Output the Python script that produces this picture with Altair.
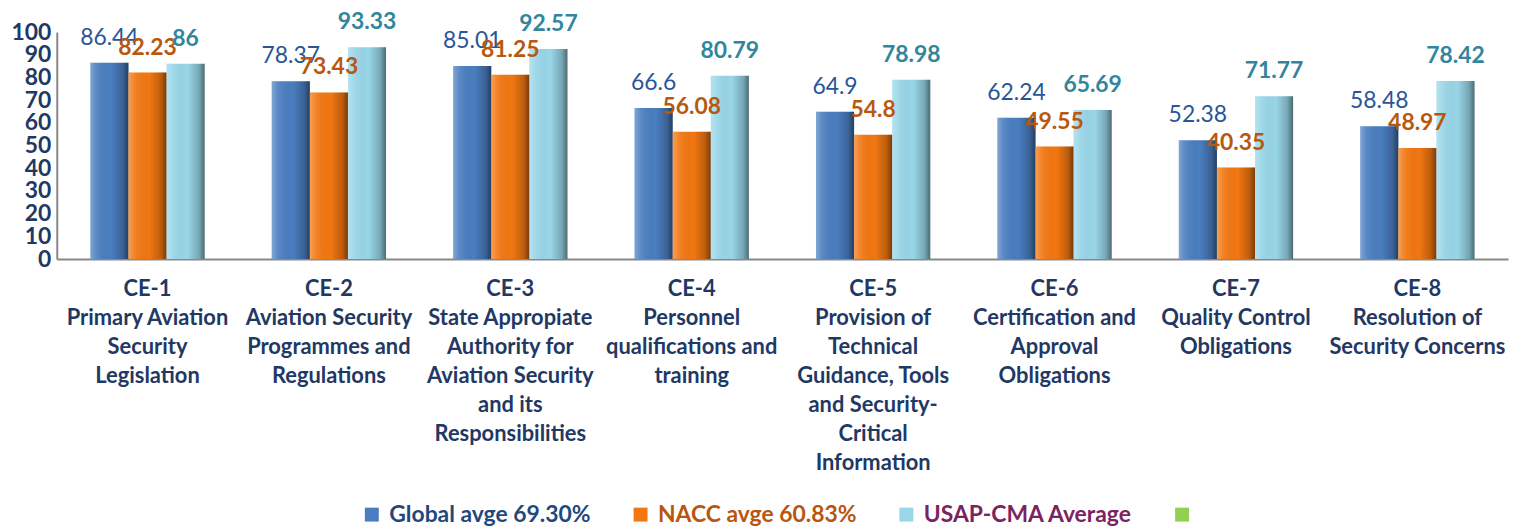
import altair as alt
import pandas as pd

categories = [
    "CE-1|Primary Aviation|Security|Legislation",
    "CE-2|Aviation Security|Programmes and|Regulations",
    "CE-3|State Appropiate|Authority for|Aviation Security|and its|Responsibilities",
    "CE-4|Personnel|qualifications and|training",
    "CE-5|Provision of|Technical|Guidance, Tools|and Security-|Critical|Information",
    "CE-6|Certification and|Approval|Obligations",
    "CE-7|Quality Control|Obligations",
    "CE-8|Resolution of|Security Concerns",
]
series = ["Global avge 69.30%", "NACC avge 60.83%", "USAP-CMA Average"]
legend_extra = " "
global_vals = [86.44, 78.37, 85.01, 66.6, 64.9, 62.24, 52.38, 58.48]
nacc_vals = [82.23, 73.43, 81.25, 56.08, 54.8, 49.55, 40.35, 48.97]
usap_vals = [86, 93.33, 92.57, 80.79, 78.98, 65.69, 71.77, 78.42]
y_ticks = [0, 10, 20, 30, 40, 50, 60, 70, 80, 90, 100]

bar_colors = ["#4A7EC0", "#F27711", "#98D6E8", "#92D050"]
label_colors = ["#2A5597", "#B8580F", "#31859C"]
label_weights = ["normal", "bold", "bold"]
legend_text_colors = ["#1F497D", "#B8560F", "#7B2361"]

rows = []
for s, vals in zip(series, [global_vals, nacc_vals, usap_vals]):
    for c, v in zip(categories, vals):
        rows.append({"cat": c, "series": s, "value": v, "label": f"{v:g}"})
df = pd.DataFrame(rows)

x_enc = alt.X(
    "cat:N",
    sort=categories,
    scale=alt.Scale(paddingInner=0.37, paddingOuter=0.185),
    axis=alt.Axis(
        title=None, labelExpr="split(datum.label, '|')", labelAngle=0,
        labelFont="Lato", labelFontSize=22, labelFontWeight="bold",
        labelColor="#1F3864", labelLineHeight=29, labelPadding=20,
        ticks=False, domainColor="#888888", domainWidth=2, labelLimit=0,
        labelOverlap=False, labelBound=False,
    ),
)
xoff_enc = alt.XOffset("series:N", scale=alt.Scale(domain=series, paddingInner=0, paddingOuter=0))
y_enc = alt.Y(
    "value:Q",
    scale=alt.Scale(domain=[0, 100], nice=False),
    axis=alt.Axis(
        title=None, values=y_ticks, labelFont="Lato", labelFontSize=23,
        labelFontWeight="bold", labelColor="#1F3864", domainColor="#888888",
        domainWidth=2, ticks=False, grid=False, labelPadding=6,
        labelOverlap=False, labelBound=False, labelFlush=False,
    ),
)

label_expr = (
    f"datum.label == '{series[0]}' ? '{legend_text_colors[0]}' : "
    f"datum.label == '{series[1]}' ? '{legend_text_colors[1]}' : '{legend_text_colors[2]}'"
)

base = alt.Chart(df)
bars = base.mark_bar().encode(
    x=x_enc,
    xOffset=xoff_enc,
    y=y_enc,
    color=alt.Color(
        "series:N",
        scale=alt.Scale(domain=series + [legend_extra], range=bar_colors),
        legend=alt.Legend(
            orient="none", legendX=305, legendY=473, direction="horizontal",
            title=None, symbolType="square", symbolSize=196, symbolStrokeWidth=0,
            labelFont="Lato", labelFontSize=23, labelFontWeight="bold",
            labelColor=alt.ExprRef(expr=label_expr), columnPadding=38,
            labelLimit=0, labelOffset=6,
        ),
    ),
)

shade = base.mark_bar(
    color=alt.LinearGradient(
        gradient="linear", x1=0, x2=1, y1=0, y2=0,
        stops=[
            alt.GradientStop(color="rgba(255,255,255,0.30)", offset=0),
            alt.GradientStop(color="rgba(255,255,255,0.10)", offset=0.15),
            alt.GradientStop(color="rgba(0,0,0,0)", offset=0.55),
            alt.GradientStop(color="rgba(0,0,0,0.22)", offset=0.85),
            alt.GradientStop(color="rgba(0,0,0,0.5)", offset=1),
        ],
    )
).encode(x=x_enc, xOffset=xoff_enc, y=y_enc)

texts = []
for s, col, w in zip(series, label_colors, label_weights):
    texts.append(
        base.transform_filter(alt.datum.series == s)
        .mark_text(dy=-25, baseline="middle", font="Lato", fontSize=23, fontWeight=w, color=col)
        .encode(x=x_enc, xOffset=xoff_enc, y=y_enc, text="label:N")
    )

chart = (
    alt.layer(bars, shade, *texts)
    .properties(
        width=1458, height=228,
        autosize=alt.AutoSizeParams(type="none"),
        padding={"left": 49, "top": 23, "right": 16, "bottom": 271},
    )
    .configure_view(stroke=None)
)

chart.save("out.html", embed_options={"renderer": "svg", "actions": False})
